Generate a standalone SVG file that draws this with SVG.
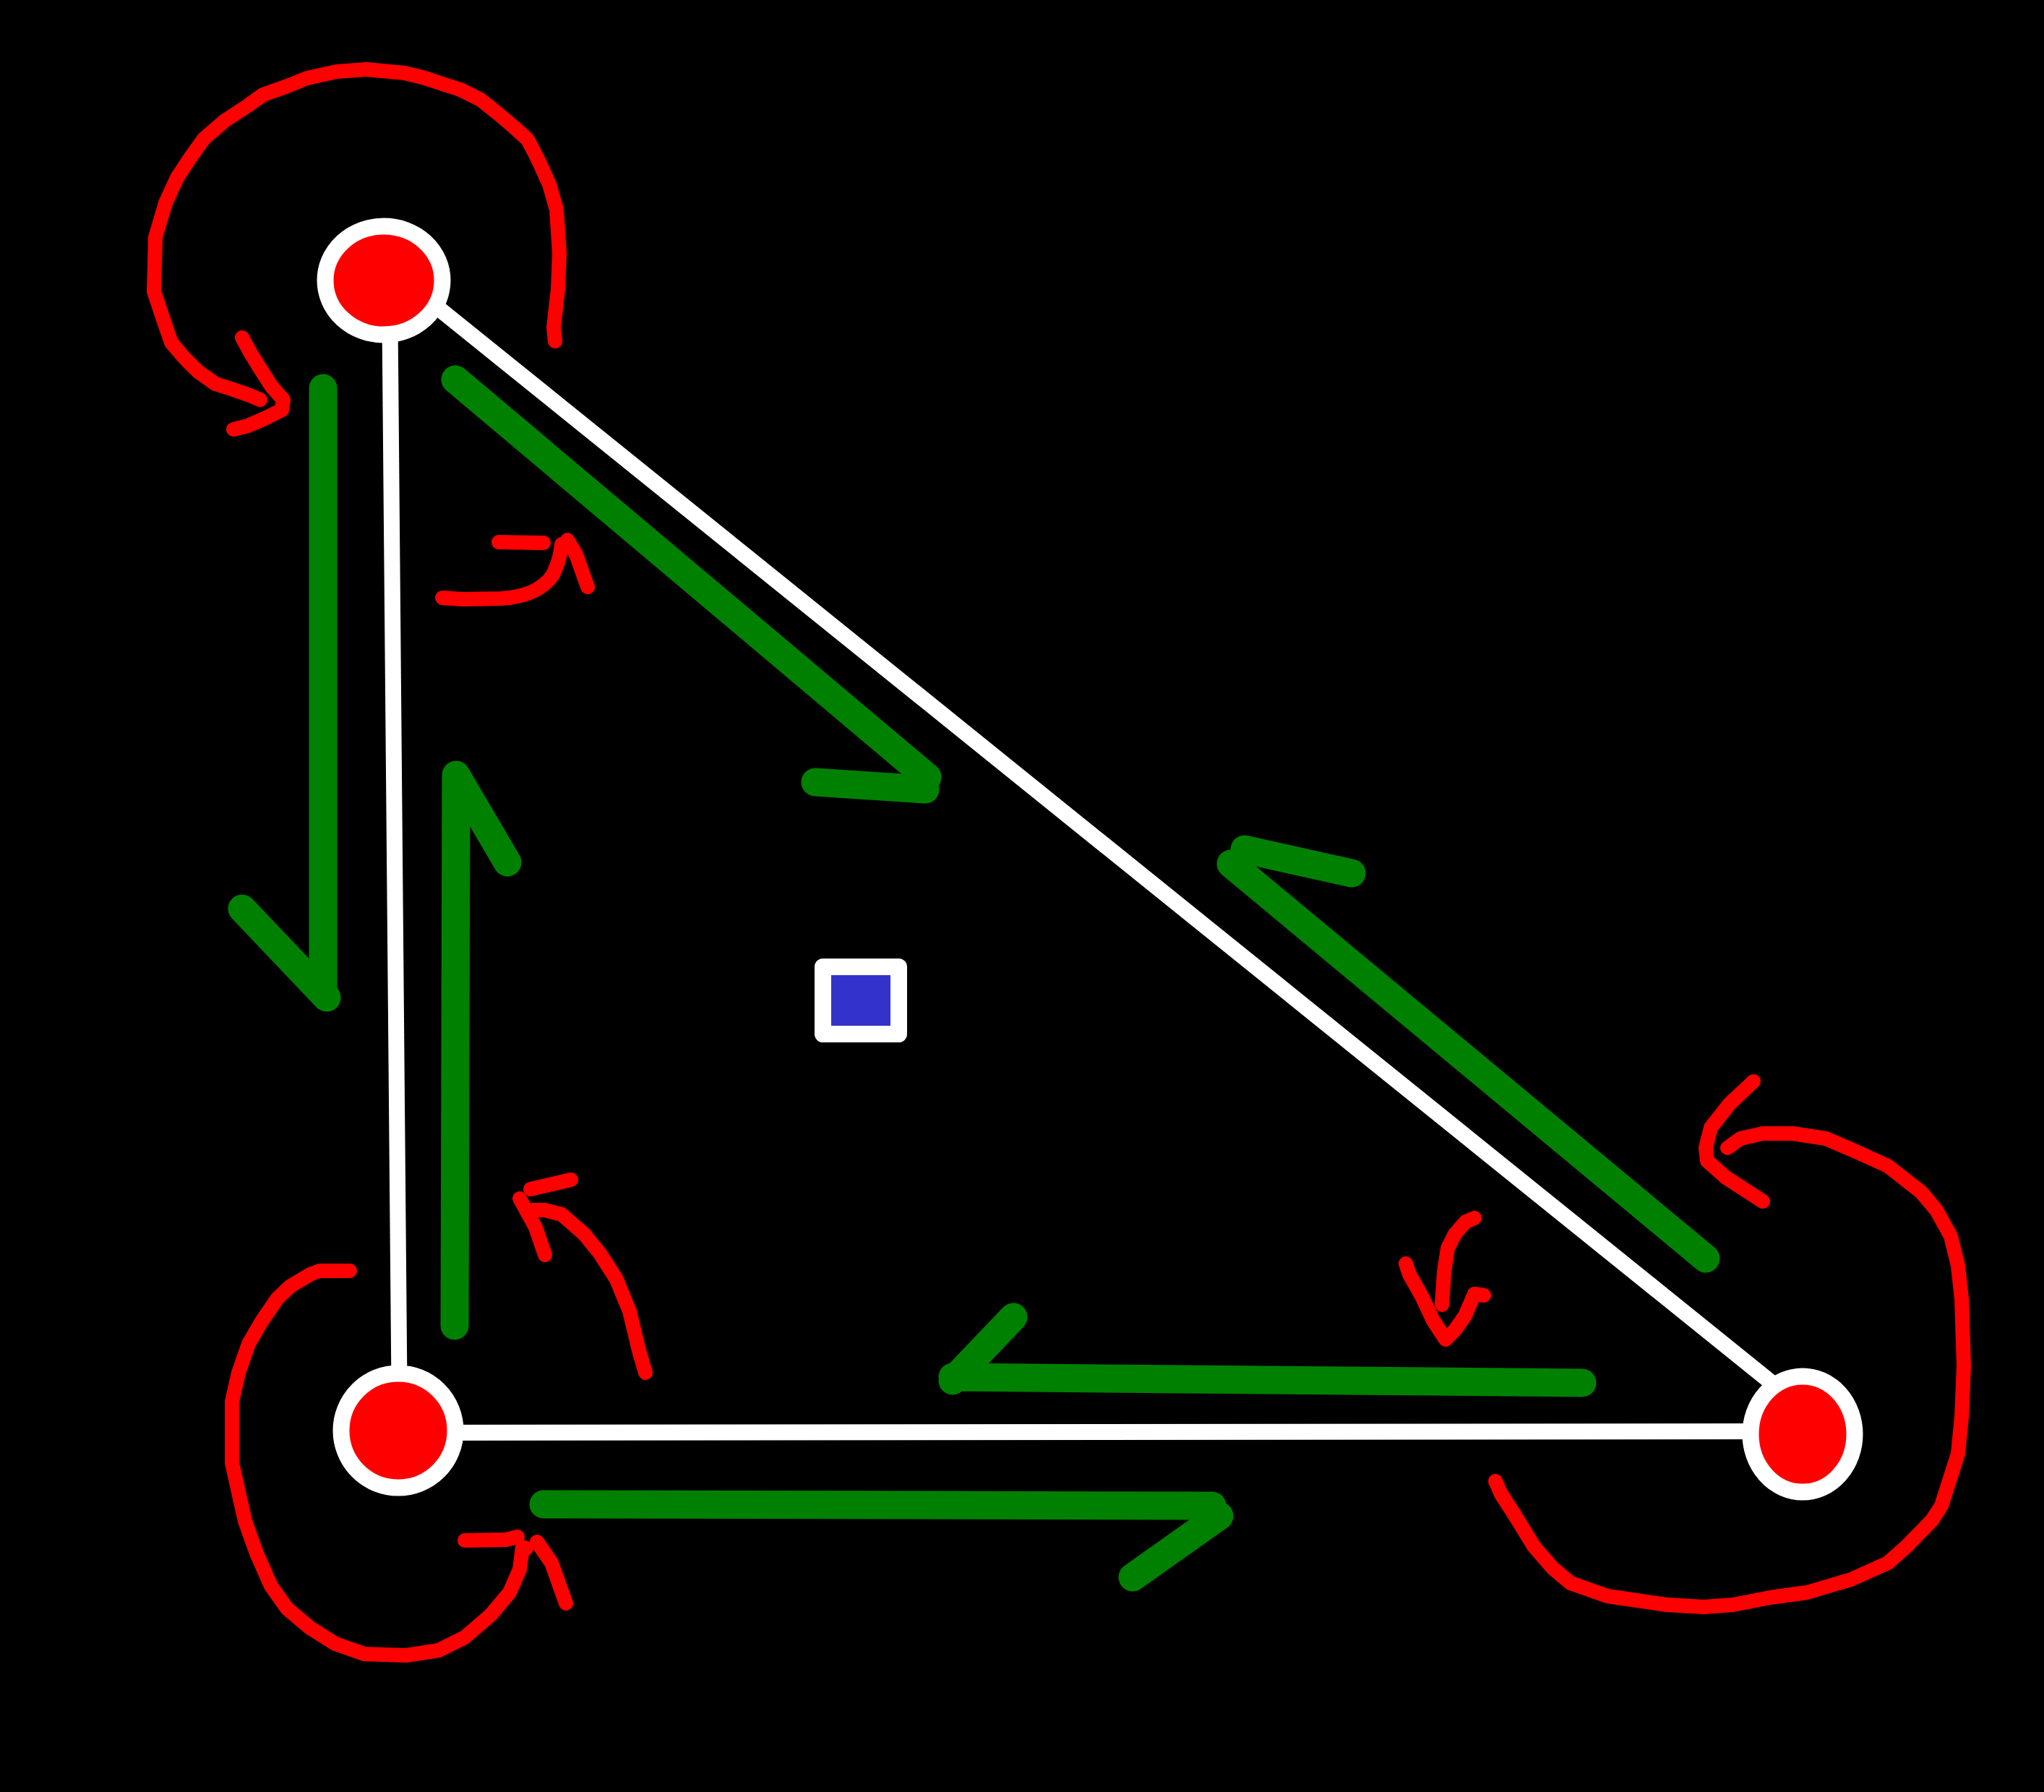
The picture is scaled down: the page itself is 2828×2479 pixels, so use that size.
<svg xmlns="http://www.w3.org/2000/svg" width="2828" height="2479" viewBox="0 0 2828 2479">
<style>
.edge{stroke:#ffffff;stroke-width:22;fill:none;stroke-linecap:butt}
.g{stroke:#008000;stroke-width:39;fill:none;stroke-linecap:round;stroke-linejoin:round}
.r{stroke:#ff0000;stroke-width:20;fill:none;stroke-linecap:round;stroke-linejoin:round}
.node{fill:#ff0000;stroke:#ffffff;stroke-width:23}
</style>
<rect x="0" y="0" width="2828" height="2479" fill="#000000"/>
<g id="connectors">
  <line class="edge" x1="539" y1="388" x2="553" y2="1979"/>
  <line class="edge" x1="590" y1="413" x2="2470" y2="1928"/>
  <line class="edge" x1="551" y1="1982" x2="2494" y2="1980"/>
  <g id="green-arrows">
    <path class="g" d="M447,537 L447,1372 M335,1257 L452,1380"/>
    <path class="g" d="M630,525 L1283,1075 M1128,1082 L1280,1092"/>
    <path class="g" d="M629,1834 L631,1072 L702,1193"/>
    <path class="g" d="M2360,1741 L1703,1195 M1722,1175 L1870,1208"/>
    <path class="g" d="M2189,1913 L1318,1905 M1318,1910 L1402,1822"/>
    <path class="g" d="M752,2081 L1677,2083 M1687,2097 L1567,2182"/>
  </g>
  <g id="red-arrows">
    <polyline class="r" points="768,472 766,453 772,400 774,350 770,290 760,255 745,222 730,193 710,175 690,158 665,138 637,124 612,116 588,108 560,101 539,99 507,96 466,99 425,108 395,120 364,131 343,146 311,167 282,192 262,220 245,246 229,281 215,328 213,403 225,439 237,474 255,495 274,514 298,531 320,538 343,546 360,553"/>
    <polyline class="r" points="335,467 347,489 360,510 376,535 392,553 390,567 368,578 343,589 323,594"/>
    <path class="r" d="M612,827 L640,829 L693,828 Q745,825 765,795 Q775,775 777,753"/>
    <polyline class="r" points="690,750 752,751"/>
    <polyline class="r" points="785,747 797,767 813,812"/>
    <polyline class="r" points="484,1758 442,1758 429,1763 402,1779 384,1796 362,1828 344,1859 330,1899 321,1939 321,2024 330,2064 339,2104 355,2149 375,2194 397,2225 429,2252 464,2274 504,2288 562,2290 607,2283 643,2265 679,2234 705,2203 719,2171 723,2140 728,2142"/>
    <polyline class="r" points="643,2131 700,2130 716,2126"/>
    <polyline class="r" points="743,2133 763,2162 783,2218"/>
    <polyline class="r" points="893,1899 884,1868 871,1814 853,1770 830,1734 808,1707 777,1680 754,1674 737,1674"/>
    <polyline class="r" points="734,1645 790,1632"/>
    <polyline class="r" points="719,1658 741,1698 754,1736"/>
    <polyline class="r" points="2390,1588 2408,1575 2439,1568 2480,1568 2526,1575 2561,1590 2612,1613 2658,1649 2679,1674 2699,1710 2709,1751 2714,1797 2717,1889 2714,1960 2709,2011 2686,2083 2673,2103 2638,2139 2612,2162 2561,2185 2500,2203 2449,2210 2398,2220 2357,2223 2306,2220 2224,2208 2173,2190 2148,2169 2122,2139 2097,2098 2077,2067 2069,2049"/>
    <polyline class="r" points="2426,1496 2393,1527 2367,1560 2360,1588 2362,1606 2388,1629 2439,1662"/>
    <polyline class="r" points="2040,1685 2028,1690 2013,1707 2003,1727 1998,1760 1995,1805"/>
    <polyline class="r" points="1945,1748 1950,1763 1967,1793 1983,1827 2000,1853 2013,1840 2027,1820 2040,1790 2053,1792"/>
  </g>
</g>
<g id="node-a"><ellipse class="node" cx="531" cy="388" rx="81" ry="75"/></g>
<g id="node-b"><circle class="node" cx="551" cy="1979" r="79"/></g>
<g id="node-c"><ellipse class="node" cx="2494" cy="1984" rx="72" ry="80"/></g>
<g id="node-center"><rect x="1138.5" y="1337.5" width="105" height="93" fill="#3333cc" stroke="#ffffff" stroke-width="23" stroke-linejoin="round"/></g>
</svg>
